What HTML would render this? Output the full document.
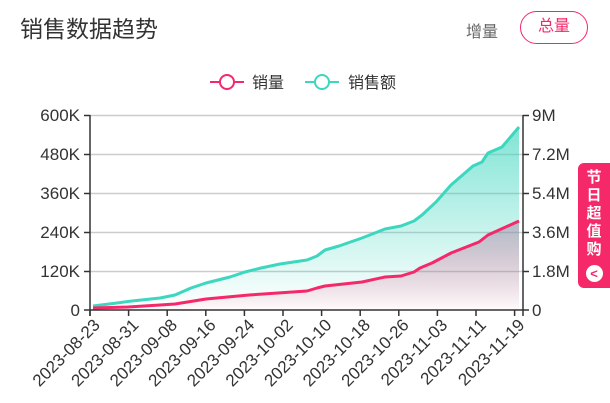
<!DOCTYPE html>
<html><head><meta charset="utf-8"><style>
body{margin:0;width:610px;height:403px;background:#fff;overflow:hidden;font-family:"Liberation Sans","Noto Sans CJK SC",sans-serif;position:relative}
.t{position:absolute;left:20px;top:10px;font-size:23px;color:#333}
.z{position:absolute;left:466px;top:18px;font-size:16px;color:#666}
.b{position:absolute;left:520px;top:11px;width:68px;height:33px;border:1.5px solid #f5286a;border-radius:18px;box-sizing:border-box;color:#f5286a;font-size:16px;text-align:center;line-height:30px}
.badge{position:absolute;left:578px;top:163px;width:32px;height:125px;background:#f5286a;border-radius:6px 0 0 6px;color:#fff;font-size:15px;font-weight:bold;text-align:center;line-height:18px;padding-top:6px;box-sizing:border-box}
.c{width:17px;height:17px;border-radius:50%;background:#fff;color:#f5286a;margin:6px auto 0;font-size:13px;line-height:17px}
</style></head><body>
<div class="t">销售数据趋势</div>
<div class="z">增量</div>
<div class="b">总量</div>
<svg width="610" height="403" style="position:absolute;left:0;top:0">
<defs>
<linearGradient id="g1" x1="0" y1="0" x2="0" y2="1"><stop offset="0" stop-color="#3dd6be" stop-opacity=".65"/><stop offset="1" stop-color="#3dd6be" stop-opacity="0"/></linearGradient>
<linearGradient id="g2" x1="0" y1="0" x2="0" y2="1"><stop offset="0" stop-color="#9a8aa8" stop-opacity=".5"/><stop offset="1" stop-color="#f5286a" stop-opacity=".02"/></linearGradient>
</defs>
<g stroke="#ccc" stroke-width="1.5"><line x1="90" y1="115.5" x2="523" y2="115.5"/><line x1="90" y1="154.5" x2="523" y2="154.5"/><line x1="90" y1="193.5" x2="523" y2="193.5"/><line x1="90" y1="232.5" x2="523" y2="232.5"/><line x1="90" y1="271.5" x2="523" y2="271.5"/></g>
<path d="M93,306 L117,303 L132,301 L160,298 L175,295 L191,288 L206,283 L218,280 L230,277 L245,272 L261,268 L280,264 L307,260 L317,256 L325,250 L339,246 L362,238 L385,229 L401,226 L414,221 L422,215 L436,202 L451,185 L473,166 L482,162 L488,153 L502,147 L519,127 L519,310 L93,310Z" fill="url(#g1)"/>
<path d="M93,308 L128,307 L160,305 L175,304 L206,299 L249,295 L307,291 L317,288 L325,286 L362,282 L385,277 L401,276 L414,272 L420,268 L432,263 L451,253 L479,242 L488,235 L519,221 L519,310 L93,310Z" fill="url(#g2)"/>
<path d="M93,306 L117,303 L132,301 L160,298 L175,295 L191,288 L206,283 L218,280 L230,277 L245,272 L261,268 L280,264 L307,260 L317,256 L325,250 L339,246 L362,238 L385,229 L401,226 L414,221 L422,215 L436,202 L451,185 L473,166 L482,162 L488,153 L502,147 L519,127" fill="none" stroke="#3dd6be" stroke-width="3" stroke-linejoin="round"/>
<path d="M93,308 L128,307 L160,305 L175,304 L206,299 L249,295 L307,291 L317,288 L325,286 L362,282 L385,277 L401,276 L414,272 L420,268 L432,263 L451,253 L479,242 L488,235 L519,221" fill="none" stroke="#f5286a" stroke-width="3" stroke-linejoin="round"/>
<g stroke="#333" stroke-width="1.5" fill="none">
<line x1="90" y1="115" x2="90" y2="316"/><line x1="523" y1="115" x2="523" y2="316"/><line x1="84" y1="310" x2="529" y2="310"/>
<line x1="84" y1="115.5" x2="90" y2="115.5"/><line x1="84" y1="154.5" x2="90" y2="154.5"/><line x1="84" y1="193.5" x2="90" y2="193.5"/><line x1="84" y1="232.5" x2="90" y2="232.5"/><line x1="84" y1="271.5" x2="90" y2="271.5"/>
<line x1="523" y1="115.5" x2="529" y2="115.5"/><line x1="523" y1="154.5" x2="529" y2="154.5"/><line x1="523" y1="193.5" x2="529" y2="193.5"/><line x1="523" y1="232.5" x2="529" y2="232.5"/><line x1="523" y1="271.5" x2="529" y2="271.5"/>
</g>
<g font-size="17" fill="#333" text-anchor="end">
<text x="80" y="121">600K</text><text x="80" y="160">480K</text><text x="80" y="199">360K</text><text x="80" y="238">240K</text><text x="80" y="277">120K</text><text x="80" y="316">0</text>
</g>
<g font-size="17" fill="#333">
<text x="532" y="121">9M</text><text x="532" y="160">7.2M</text><text x="532" y="199">5.4M</text><text x="532" y="238">3.6M</text><text x="532" y="277">1.8M</text><text x="532" y="316">0</text>
</g>
<g id="xt" font-size="17" fill="#333" text-anchor="end"></g>
<g stroke="#f5286a" stroke-width="2" fill="#fff"><line x1="210" y1="82" x2="244" y2="82"/><circle cx="227" cy="82" r="7"/></g>
<text x="252" y="88" font-size="16" fill="#333">销量</text>
<g stroke="#3dd6be" stroke-width="2" fill="#fff"><line x1="305" y1="82" x2="339" y2="82"/><circle cx="322" cy="82" r="7"/></g>
<text x="348" y="88" font-size="16" fill="#333">销售额</text>
</svg>
<div class="badge">节<br>日<br>超<br>值<br>购<div class="c">&lt;</div></div>
<script>
var d=["2023-08-23","2023-08-31","2023-09-08","2023-09-16","2023-09-24","2023-10-02","2023-10-10","2023-10-18","2023-10-26","2023-11-03","2023-11-11","2023-11-19"],g=document.getElementById("xt"),s="";
for(var i=0;i<12;i++){var x=90+i*38.6;s+='<line x1="'+x+'" y1="310" x2="'+x+'" y2="316" stroke="#333" stroke-width="1.5"/><text transform="translate('+(x+11)+',326) rotate(-45)">'+d[i]+'</text>';}
g.innerHTML=s;
</script>
</body></html>
